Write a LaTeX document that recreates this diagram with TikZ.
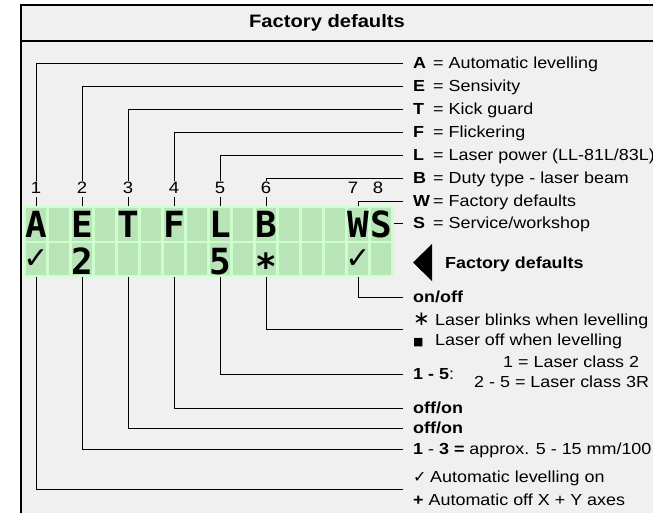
\documentclass[tikz,border=0pt]{standalone}
\usepackage{xcolor}
\usepackage{fontspec}
\setmainfont[FakeStretch=1.12]{Liberation Sans}
\newfontfamily\lcdfont{DejaVu Sans Mono}
\newfontfamily\symfont{DejaVu Sans}
\usepackage{tikz}

\definecolor{panelgray}{RGB}{240,240,240}
\definecolor{lcdback}{RGB}{204,255,204}
\definecolor{lcdcell}{RGB}{184,228,184}

\newcommand{\keyl}[1]{\makebox[20pt][l]{\textbf{#1}}}
\newcommand{\symbox}[2]{\makebox[#1][l]{\symfont #2}}

\begin{document}
\begin{tikzpicture}[x=1pt,y=-1pt,font=\fontsize{16}{18}\selectfont]
        \tikzstyle{lead}=[draw=black,line width=0.9pt]
        \tikzstyle{label}=[anchor=west,inner xsep=10pt,inner ysep=0pt,text height=11.5pt,text depth=0pt]
        \tikzstyle{num}=[inner sep=1pt,font=\fontsize{16.5}{18}\selectfont]
        \tikzstyle{lcdchar}=[inner sep=0pt,font=\lcdfont\bfseries\fontsize{36}{36}\selectfont,text height=27pt,text depth=0pt]
        \tikzstyle{lcdtick}=[inner sep=0pt,font=\symfont\bfseries\fontsize{30}{30}\selectfont]

        \useasboundingbox (0,0) rectangle (653,513);
        \fill[white] (0,0) rectangle (653,513);
        \draw[line width=2pt,fill=panelgray] (21,5) rectangle (700,530);
        \draw[line width=2pt] (21,41) -- (700,41);
        \node[font=\bfseries\fontsize{18}{20}\selectfont] (title) at (327,23) {Factory defaults};

        % display
        \node[fill=lcdback,minimum width=370pt,minimum height=71pt,inner sep=0pt] (lcd) at (209,241.5) {};
        \foreach \c in {0,...,15} {
            \fill[lcdcell] ({26+23*\c},208) rectangle ++(20,33);
            \fill[lcdcell] ({26+23*\c},243) rectangle ++(20,32);
        }
        \node[lcdchar] (cA) at (36,223.5) {A};
        \node[lcdchar] (cE) at (82,223.5) {E};
        \node[lcdchar] (cT) at (128,223.5) {T};
        \node[lcdchar] (cF) at (174,223.5) {F};
        \node[lcdchar] (cL) at (220,223.5) {L};
        \node[lcdchar] (cB) at (266,223.5) {B};
        \node[lcdchar] (cW) at (358,223.5) {W};
        \node[lcdchar] (cS) at (381,223.5) {S};
        \node[lcdtick] (vA) at (36,259) {✓};
        \node[lcdchar] (vE) at (82,261) {2};
        \node[lcdchar] (vL) at (220,261) {5};
        \node[lcdchar] (vB) at (266,266) {*};
        \node[lcdtick] (vW) at (358,259) {✓};

        % column numbers
        \node[num] (n1) at (36,188) {1};
        \node[num] (n2) at (82,188) {2};
        \node[num] (n3) at (128,188) {3};
        \node[num] (n4) at (174,188) {4};
        \node[num] (n5) at (220,188) {5};
        \node[num] (n6) at (266,188) {6};
        \node[num] (n7) at (353,188) {7};
        \node[num] (n8) at (378,188) {8};

        % upper legend
        \node[label] (lA) at (403,63) {\keyl{A}= Automatic levelling};
        \node[label] (lE) at (403,86) {\keyl{E}= Sensivity};
        \node[label] (lT) at (403,109) {\keyl{T}= Kick guard};
        \node[label] (lF) at (403,132) {\keyl{F}= Flickering};
        \node[label] (lL) at (403,155) {\keyl{L}= Laser power (LL-81L/83L)};
        \node[label] (lB) at (403,178) {\keyl{B}= Duty type - laser beam};
        \node[label] (lW) at (403,201) {\keyl{W}= Factory defaults};
        \node[label] (lS) at (403,223) {\keyl{S}= Service/workshop};

        \foreach \n/\l in {n1/lA,n2/lE,n3/lT,n4/lF,n5/lL,n6/lB} {
            \draw[lead] (\n.north) |- (\l.west);
            \draw[lead,shorten <=2pt] (\n.south) -- (\n |- lcd.north);
        }
        \draw[lead] (cW |- lcd.north) |- (lW.west);
        \draw[lead] (lcd.east |- lS.west) -- (lS.west);

        % marker
        \fill (432,244) -- (413,262.5) -- (432,281) -- cycle;
        \node[label,inner xsep=0pt] (fd) at (445,263) {\textbf{Factory defaults}};

        % lower legend
        \node[label] (onoff) at (403,297) {\textbf{on/off}};
        \node[label] (blink) at (403,320) {\symbox{22pt}{\fontsize{20}{20}\selectfont ∗}Laser blinks when levelling};
        \node[label] (laseroff) at (403,340) {\symbox{22pt}{\fontsize{11}{11}\selectfont ■}Laser off when levelling};
        \node[label,inner xsep=0pt] (cls2) at (503,362) {1 = Laser class 2};
        \node[label] (r15) at (403,374) {\textbf{1 - 5}:};
        \node[label,inner xsep=0pt] (cls3) at (474,382) {2 - 5 = Laser class 3R};
        \node[label] (off1) at (403,408) {\textbf{off/on}};
        \node[label] (off2) at (403,428) {\textbf{off/on}};
        \node[label] (r13) at (403,449) {\textbf{1} - \textbf{3} \textbf{=} approx. 5 - 15 mm/100};
        \node[label] (autoon) at (403,477) {\symbox{17pt}{\bfseries\fontsize{16}{16}\selectfont ✓}Automatic levelling on};
        \node[label] (autooff) at (403,500) {\textbf{+} Automatic off X + Y axes};
        \coordinate (bB) at (403,329);
        \coordinate (bA) at (403,489);

        \draw[lead] (cW |- lcd.south) |- (onoff.west);
        \draw[lead] (cB |- lcd.south) |- (bB);
        \draw[lead] (cL |- lcd.south) |- (r15.west);
        \draw[lead] (cF |- lcd.south) |- (off1.west);
        \draw[lead] (cT |- lcd.south) |- (off2.west);
        \draw[lead] (cE |- lcd.south) |- (r13.west);
        \draw[lead] (cA |- lcd.south) |- (bA);
    \end{tikzpicture}
\end{document}
